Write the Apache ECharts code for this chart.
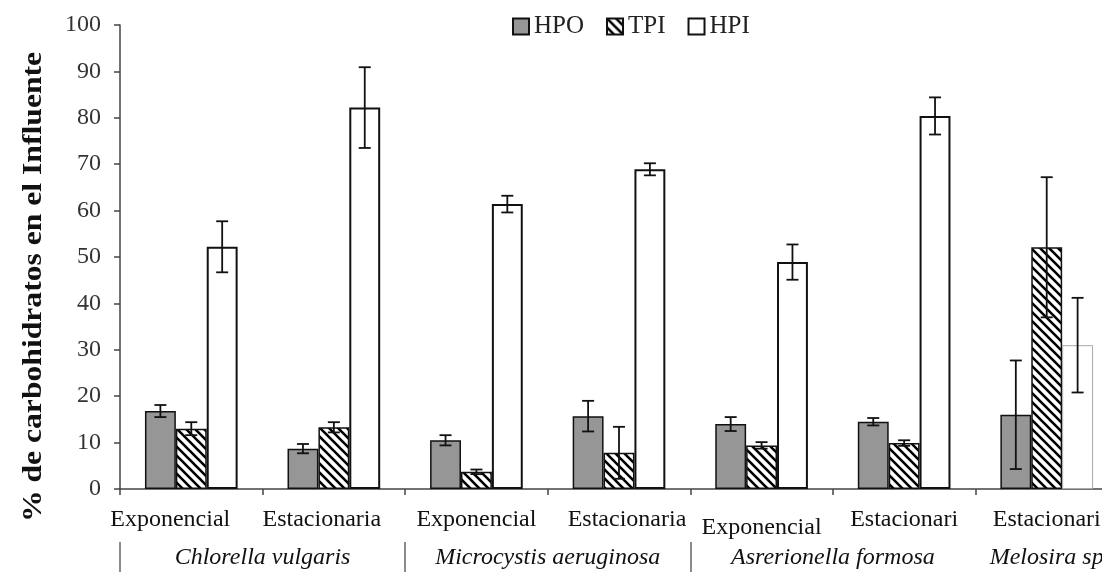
<!DOCTYPE html>
<html>
<head>
<meta charset="utf-8">
<script src="https://cdn.jsdelivr.net/npm/echarts@6/dist/echarts.min.js"></script>
<style>html,body{margin:0;padding:0;background:#fff;}#c{width:1102px;height:572px;}</style>
</head>
<body>
<div id="c"></div>
<script>
const categories = ['Exponencial','Estacionaria','Exponencial','Estacionaria','Exponencial','Estacionari','Estacionari'];
const seriesNames = ['HPO','TPI','HPI'];
const hpo    = [16.8, 8.7, 10.5, 15.7, 14.0, 14.5, 16.0];
const hpoErr = [1.3, 1.0, 1.1, 3.3, 1.5, 0.8, 11.7];
const tpi    = [13.0, 13.3, 3.7, 7.8, 9.4, 9.9, 52.1];
const tpiErr = [1.4, 1.1, 0.5, 5.6, 0.7, 0.6, 15.1];
const hpi    = [52.2, 82.2, 61.4, 68.9, 48.9, 80.4, 31.0];
const hpiErr = [5.5, 8.7, 1.8, 1.3, 3.8, 4.0, 10.2];
const yTicks = [0,10,20,30,40,50,60,70,80,90,100];
const speciesPos = [1, 3, 5, 6.5];
const speciesNames = ['Chlorella vulgaris','Microcystis aeruginosa','Asrerionella formosa','Melosira sp'];
const groupBounds = [0, 2, 4];

const FONT = '"Liberation Serif","DejaVu Serif",serif';

function makeHatch(){
  const s = 9;
  const cv = document.createElement('canvas');
  cv.width = s; cv.height = s;
  const ctx = cv.getContext('2d');
  ctx.fillStyle = '#fff'; ctx.fillRect(0,0,s,s);
  ctx.strokeStyle = '#000'; ctx.lineWidth = 2.6;
  ctx.beginPath();
  ctx.moveTo(-2,-2); ctx.lineTo(s+2,s+2);
  ctx.moveTo(-2,s-2); ctx.lineTo(2,s+2);
  ctx.moveTo(s-2,-2); ctx.lineTo(s+2,2);
  ctx.stroke();
  return cv;
}
const hatch = {image: makeHatch(), repeat: 'repeat'};

const values = [hpo, tpi, hpi];
const errs = [hpoErr, tpiErr, hpiErr];
const barStyles = [
  {color:'#969696', borderColor:'#111', borderWidth:1.5},
  {color:hatch, borderColor:'#111', borderWidth:1.5},
  {color:'#ffffff', borderColor:'#111', borderWidth:2}
];
const GAP = 0.35;
// per-label padding (style only) to mimic the reference's label placement
const labelPads = [[0,42,0,0],[0,24,0,0],[0,0,0,0],[0,0,0,16],[8,0,0,0],[0,0,0,0],[0,0,0,0]];

const chart = echarts.init(document.getElementById('c'));

const barSeries = seriesNames.map((n, k) => ({
  name: n, type: 'bar', xAxisIndex: 0, yAxisIndex: 0,
  barGap: '0%', barCategoryGap: (GAP*100)+'%',
  itemStyle: barStyles[k],
  data: values[k].map((v, i) => (k === 2 && i === values[k].length - 1)
    ? {value: v, itemStyle: {borderColor:'#aaa', borderWidth:1}}
    : v),
  z: 2
}));

const errSeries = seriesNames.map((n, k) => ({
  type: 'custom', xAxisIndex: 0, yAxisIndex: 0, z: 5, silent: true,
  data: values[k].map((v, i) => [i, v - errs[k][i], v + errs[k][i]]),
  renderItem: function(params, api){
    const idx = api.value(0);
    const catW = api.size([1,0])[0];
    const bw = catW * (1 - GAP) / 3;
    const cx = api.coord([idx, 0])[0] + (k - 1) * bw;
    const lo = api.coord([idx, api.value(1)])[1];
    const hi = api.coord([idx, api.value(2)])[1];
    const cap = 6;
    const st = {stroke:'#111', lineWidth:1.8};
    return {type:'group', children:[
      {type:'line', shape:{x1:cx,y1:lo,x2:cx,y2:hi}, style:st},
      {type:'line', shape:{x1:cx-cap,y1:lo,x2:cx+cap,y2:lo}, style:st},
      {type:'line', shape:{x1:cx-cap,y1:hi,x2:cx+cap,y2:hi}, style:st}
    ]};
  }
}));

chart.setOption({
  backgroundColor:'#fff',
  animation:false,
  grid:{left:120, width:998, top:25, bottom:83, containLabel:false, outerBoundsMode:'none'},
  legend:{
    data: seriesNames, top: 9, left: 507, itemWidth: 16, itemHeight: 16, itemGap: 22,
    icon: 'rect',
    textStyle:{fontFamily:FONT, fontSize:25, color:'#222', padding:[2,0,0,0]}
  },
  xAxis:[
    {type:'category', gridIndex:0, position:'bottom',
     data: categories.map((c, i) => ({value: c, textStyle: {padding: labelPads[i]}})),
     axisLine:{lineStyle:{color:'#444', width:1.5}},
     axisTick:{show:true, length:6, lineStyle:{color:'#444', width:1.5}},
     axisLabel:{fontFamily:FONT, fontSize:24, color:'#111', margin:19, interval:0}
    },
    {type:'value', gridIndex:0, position:'bottom', offset:53, min:0, max:7,
     axisLine:{show:false}, splitLine:{show:false},
     axisTick:{show:true, customValues:groupBounds, length:30, inside:false, lineStyle:{color:'#666', width:1.5}},
     axisLabel:{show:true, customValues:speciesPos, margin:4, fontFamily:FONT, fontSize:24, fontStyle:'italic', color:'#111',
       formatter: function(v){ const j = speciesPos.indexOf(v); return j >= 0 ? speciesNames[j] : ''; }}
    }
  ],
  yAxis:{type:'value', min:0, max:100, interval:10,
    axisLine:{show:true, lineStyle:{color:'#444', width:1.5}},
    axisTick:{show:true, length:6, lineStyle:{color:'#444', width:1.5}},
    splitLine:{show:false},
    axisLabel:{fontFamily:FONT, fontSize:24, color:'#333', margin:19,
      formatter: function(v){ return yTicks.indexOf(v) >= 0 ? String(v) : ''; }}
  },
  graphic:[{type:'text', x:34, y:287, rotation:Math.PI/2, scaleX:1.13, scaleY:1,
    style:{text:'% de carbohidratos en el Influente', font:'bold 28px '+FONT, fill:'#111', textAlign:'center', textVerticalAlign:'middle'}}],
  series: barSeries.concat(errSeries)
});
</script>
</body>
</html>
